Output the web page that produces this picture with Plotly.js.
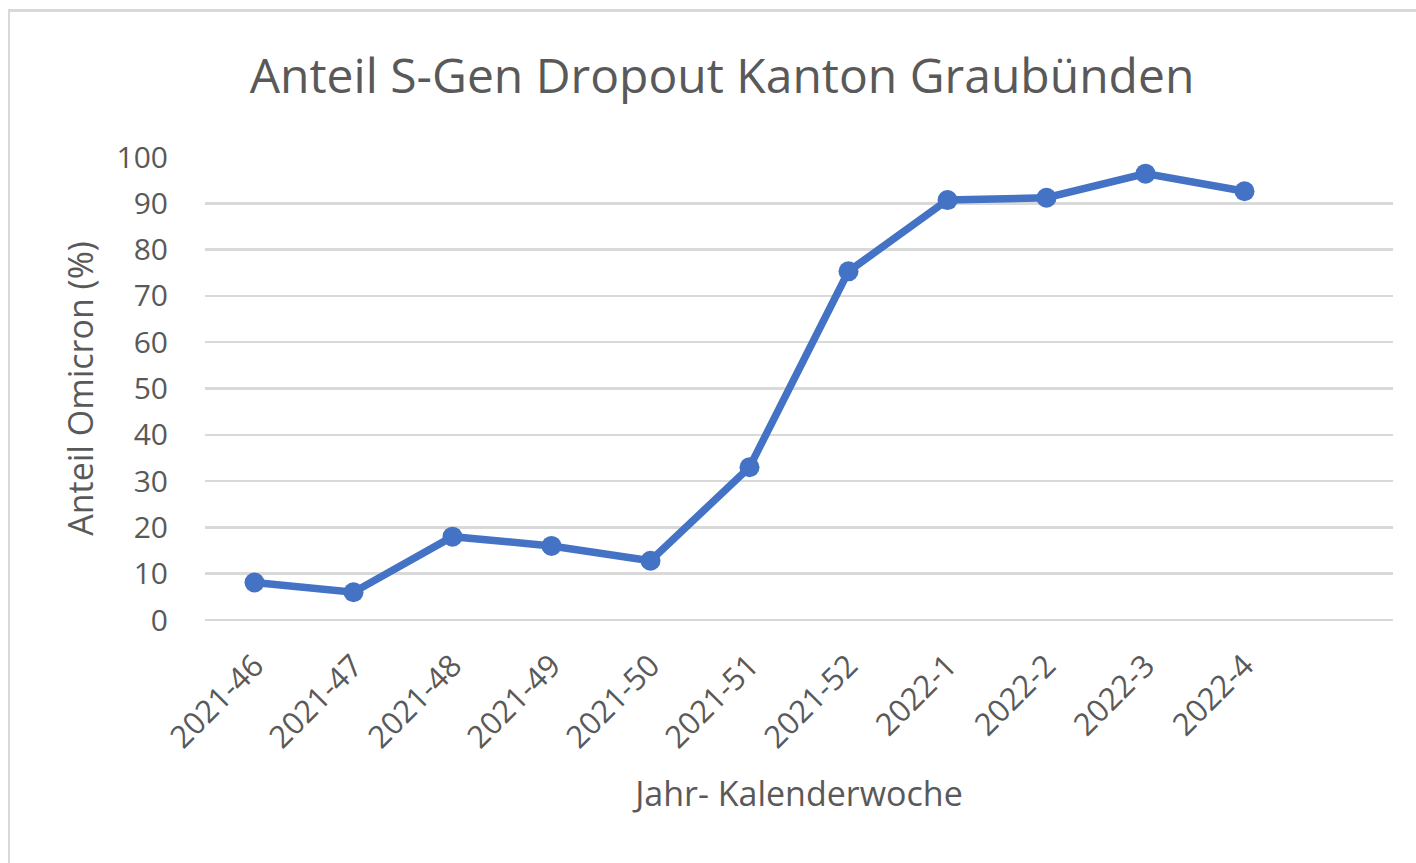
<!DOCTYPE html>
<html>
<head>
<meta charset="utf-8">
<script src="https://cdn.plot.ly/plotly-3.0.1.min.js"></script>
<style>
html,body{margin:0;padding:0;background:#fff;}
#frame{position:absolute;left:8px;top:9px;width:1420px;height:870px;border-left:2px solid #d9d9d9;border-top:3px solid #d9d9d9;box-sizing:border-box;pointer-events:none;z-index:5;}
#chart{width:1416px;height:863px;}
</style>
</head>
<body>
<div id="frame"></div>
<div id="chart"></div>
<script>
var weeks = ["2021-46","2021-47","2021-48","2021-49","2021-50","2021-51","2021-52","2022-1","2022-2","2022-3","2022-4"];
var omicronShare = [8.1, 6.0, 18.0, 16.0, 12.8, 33.0, 75.3, 90.7, 91.2, 96.4, 92.6];
var yTicks = [0,10,20,30,40,50,60,70,80,90,100];

var font = "'Open Sans', 'Noto Sans', sans-serif";
var trace = {
  x: weeks, y: omicronShare, type: 'scatter', mode: 'lines+markers',
  line: {color: '#4472C4', width: 7.5},
  marker: {color: '#4472C4', size: 20},
  hoverinfo: 'x+y'
};
var layout = {
  width: 1416, height: 863,
  margin: {l: 205, r: 23, t: 157, b: 243},
  paper_bgcolor: '#fff', plot_bgcolor: '#fff',
  showlegend: false,
  title: {text: 'Anteil S-Gen Dropout Kanton Graubünden', font: {family: font, size: 48, color: '#595959'},
          x: 722/1416, xanchor: 'center', y: 1 - 76/863, yanchor: 'middle', yref: 'container'},
  xaxis: {type: 'category', range: [-0.5, 11.5], showgrid: false, zeroline: false, showline: false,
          tickangle: -45, tickfont: {family: font, size: 31, color: '#595959'},
          ticks: 'outside', ticklen: 14, tickcolor: 'rgba(0,0,0,0)',
          title: {text: 'Jahr- Kalenderwoche', font: {family: font, size: 34, color: '#595959'}, standoff: 26}},
  yaxis: {range: [0, 100], tickvals: yTicks, showgrid: true, gridcolor: '#d9d9d9', gridwidth: 2.5,
          zeroline: true, zerolinecolor: '#d9d9d9', zerolinewidth: 2.5, showline: false,
          tickfont: {family: font, size: 30, color: '#595959'},
          ticks: 'outside', ticklen: 30, tickcolor: 'rgba(0,0,0,0)',
          title: {text: 'Anteil Omicron (%)', font: {family: font, size: 34, color: '#595959'}, standoff: 12}}
};
Plotly.newPlot('chart', [trace], layout, {displayModeBar: false, staticPlot: true});
</script>
</body>
</html>
